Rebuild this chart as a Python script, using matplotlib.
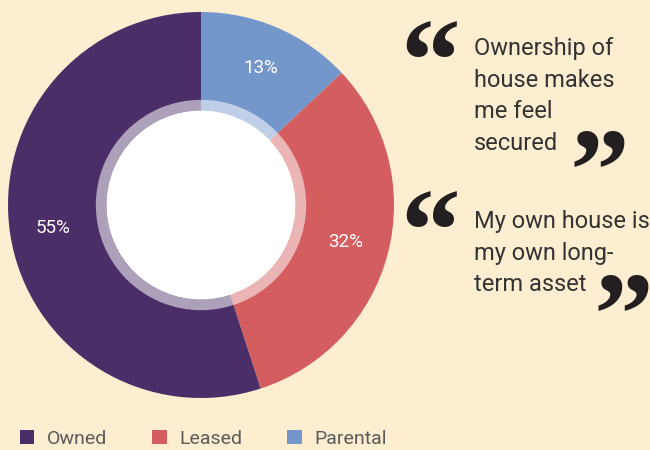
import matplotlib
matplotlib.use("Agg")
import matplotlib.pyplot as plt
from matplotlib.patches import Patch, Circle, Wedge

# data
labels = ["Parental", "Leased", "Owned"]
shares = [13, 32, 55]
colors = ["#7396cb", "#d45d5f", "#4b2e67"]
legend_order = ["Owned", "Leased", "Parental"]
quotes = ["Ownership of\nhouse makes\nme feel\nsecured",
          "My own house is\nmy own long-\nterm asset"]

bg = "#fdedd1"
plt.rcParams["font.family"] = ["Roboto", "DejaVu Sans"]

fig = plt.figure(figsize=(6.5, 4.5), dpi=100, facecolor=bg)

# pie axes: centre (201,205) px, radius 193 px
ax = fig.add_axes([8 / 650, 52 / 450, 386 / 650, 386 / 450])
ax.set_facecolor(bg)
wedges, texts, autotexts = ax.pie(
    shares, colors=colors, startangle=90, counterclock=False,
    autopct="%d%%", pctdistance=0.775, radius=1,
    wedgeprops=dict(linewidth=0),
    textprops=dict(color="white", fontsize=13.5))
# translucent inner ring + white hole
ax.add_patch(Wedge((0, 0), 0.545, 0, 360, width=0.055,
                   facecolor="white", alpha=0.55, linewidth=0))
ax.add_patch(Circle((0, 0), 0.49, facecolor="white", linewidth=0))
ax.set_xlim(-1, 1)
ax.set_ylim(-1, 1)
ax.set_aspect("equal")
ax.axis("off")

# legend
cmap = dict(zip(labels, colors))
handles = [Patch(facecolor=cmap[l], edgecolor="none", label=l) for l in legend_order]
leg = fig.legend(handles=handles, ncol=3, loc="center left",
                 bbox_to_anchor=(12 / 650, 1 - 439 / 450), frameon=False,
                 fontsize=14, handlelength=0.75, handleheight=0.75,
                 handletextpad=0.65, columnspacing=2.3, borderaxespad=0)
for t in leg.get_texts():
    t.set_color("#5a5a5a")

# quotes
qfont = dict(family=["Liberation Serif", "DejaVu Serif"], fontweight="bold",
             color="#231f20", fontsize=86)
tfont = dict(color="#333333", fontsize=17, linespacing=1.48)

fig.text(400 / 650, 1 - 100 / 450, "\u201c", **qfont)
fig.text(474 / 650, 1 - 37 / 450, quotes[0], va="top", ha="left", **tfont)
fig.text(570 / 650, 1 - 209 / 450, "\u201d", **qfont)

fig.text(400 / 650, 1 - 270 / 450, "\u201c", **qfont)
fig.text(474 / 650, 1 - 210 / 450, quotes[1], va="top", ha="left", **tfont)
fig.text(593 / 650, 1 - 353 / 450, "\u201d", **qfont)

fig.savefig("out.png", dpi=100, facecolor=bg)
